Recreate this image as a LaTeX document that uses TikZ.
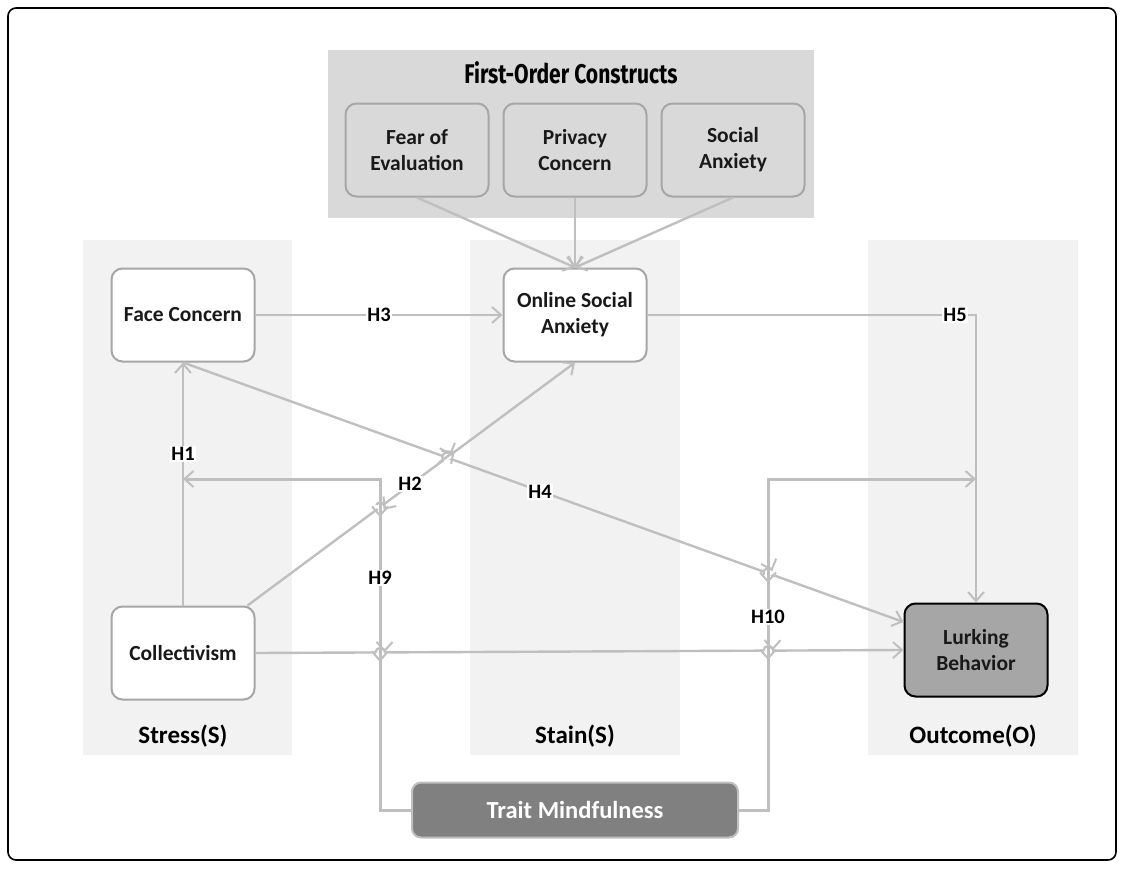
\documentclass[tikz,border=0pt]{standalone}
\usepackage{fontspec}
\setmainfont{Carlito}
\newfontfamily\titlefont{Fira Sans}[FakeStretch=0.78]
\usetikzlibrary{arrows.meta,calc}
\definecolor{colbg}{HTML}{F2F2F2}
\definecolor{topbg}{HTML}{D9D9D9}
\definecolor{boxline}{HTML}{A6A6A6}
\definecolor{conn}{HTML}{BFBFBF}
\definecolor{lurk}{HTML}{A6A6A6}
\definecolor{trait}{HTML}{808080}
\tikzset{
  box/.style={draw=boxline, line width=2pt, rounded corners=11pt, fill=white,
    minimum width=143pt, minimum height=93pt, align=center,
    font=\fontsize{21.5}{26}\selectfont\bfseries, text=black!90},
  topbox/.style={box, fill=topbg},
  conn/.style={draw=conn, line width=2.4pt, -{Straight Barb[length=9pt,width=16pt,line width=2pt]}},
  hlab/.style={fill=white, inner sep=1.5pt, font=\fontsize{20.5}{24}\selectfont\bfseries},
  collab/.style={font=\fontsize{25}{30}\selectfont\bfseries},
}
% hop: #1 position, #2 angle of the hopping line, #3 crossed line as two points
\newcommand\linehop[3]{%
  \begin{scope}[shift={#1}, rotate=#2]
    \draw[white, line width=6pt] (-4.2,0) -- (4.2,0);
  \end{scope}
  \draw[conn, line width=2.4pt] #3;
  \begin{scope}[shift={#1}, rotate=#2]
    \draw[conn, line width=2.2pt, line cap=round] (-4.5,0) arc[start angle=180, end angle=360, radius=4.5];
  \end{scope}}
\begin{document}
\begin{tikzpicture}[x=1pt,y=-1pt]
\useasboundingbox (0,0) rectangle (1124,870);
\draw[line width=1.6pt, rounded corners=8pt] (8,8) rectangle (1116,860);
% backgrounds
\fill[colbg] (83,240) rectangle (292,755);
\fill[colbg] (470,240) rectangle (680,755);
\fill[colbg] (868,240) rectangle (1078,755);
\fill[topbg] (328,50) rectangle (814,218);
\node[font=\titlefont\fontsize{27}{30}\selectfont\bfseries] (title) at (571,73) {First-Order Constructs};
% top boxes
\node[topbox] (fe) at (417,150) {Fear of\\Evaluation};
\node[topbox] (pc) at (575,150) {Privacy\\Concern};
\node[topbox] (sa) at (733,150) {Social\\Anxiety};
% main nodes
\node[box] (fc) at (183,315) {Face Concern};
\node[box] (osa) at (575,315) {Online Social\\Anxiety};
\node[box] (cl) at (183,653) {Collectivism};
\node[box, fill=lurk, draw=black, minimum width=143pt] (lb) at (976,650) {Lurking\\Behavior};
\node[box, fill=trait, draw=conn, minimum width=326pt, minimum height=55pt, rounded corners=9pt,
  text=white, font=\fontsize{24.5}{28}\selectfont\bfseries] (tm) at (575,810) {Trait Mindfulness};
% column labels
\node[collab] (ls) at (183,736) {Stress(S)};
\node[collab] (ms) at (575,736) {Stain(S)};
\node[collab] (rs) at (973,736) {Outcome(O)};
% first-order arrows
\draw[conn] (fe.south) -- (osa.north);
\draw[conn] (pc.south) -- (osa.north);
\draw[conn] (sa.south) -- (osa.north);
% H3
\draw[conn] (fc.east) -- node[hlab] (h3) {H3} (osa.west);
% H5
\coordinate (c5) at (976,315);
\draw[conn] (osa.east) -- (c5) -- (lb.north);
% H1
\draw[conn] (cl.north) -- (fc.south);
% H9
\coordinate (a9) at (380,810);
\coordinate (b9) at (380,479);
\coordinate (e9) at (183,479);
\draw[conn, line width=3pt] (tm.west) -- (a9) -- (b9) -- (e9);
% H10
\coordinate (a10) at (768,810);
\coordinate (b10) at (768,479);
\coordinate (e10) at (976,479);
\draw[conn, line width=3pt] (tm.east) -- (a10) -- (b10) -- (e10);
% H2
\coordinate (s2) at ($(cl.north east)+(-8,0)$);
\draw[conn] (s2) -- (osa.south);
% H4
\coordinate (l4) at ($(lb.west)+(0,-28)$);
\draw[conn] (fc.south) -- (l4);
% collectivism -> lurking
\draw[conn] (cl.east) -- (lb.west);
% line hops
\linehop{(380,507)}{-36.9}{[line width=3pt] (380,497) -- (380,517)}
\linehop{(446.7,457)}{19.8}{(438.7,463) -- (454.7,451)}
\linehop{(768,572.7)}{19.8}{[line width=3pt] (768,562) -- (768,583)}
\linehop{(380,652.4)}{-0.3}{[line width=3pt] (380,642) -- (380,662)}
\linehop{(768,650.6)}{-0.3}{[line width=3pt] (768,640) -- (768,660)}
% labels
\node[hlab] (h5) at (955,315) {H5};
\node[hlab] (h1) at (183,454) {H1};
\node[hlab] (h4) at (540,492) {H4};
\node[hlab] (h2) at (410,484) {H2};
\node[hlab] (h9) at (380,578) {H9};
\node[hlab] (h10) at (768,617) {H10};
\end{tikzpicture}
\end{document}
